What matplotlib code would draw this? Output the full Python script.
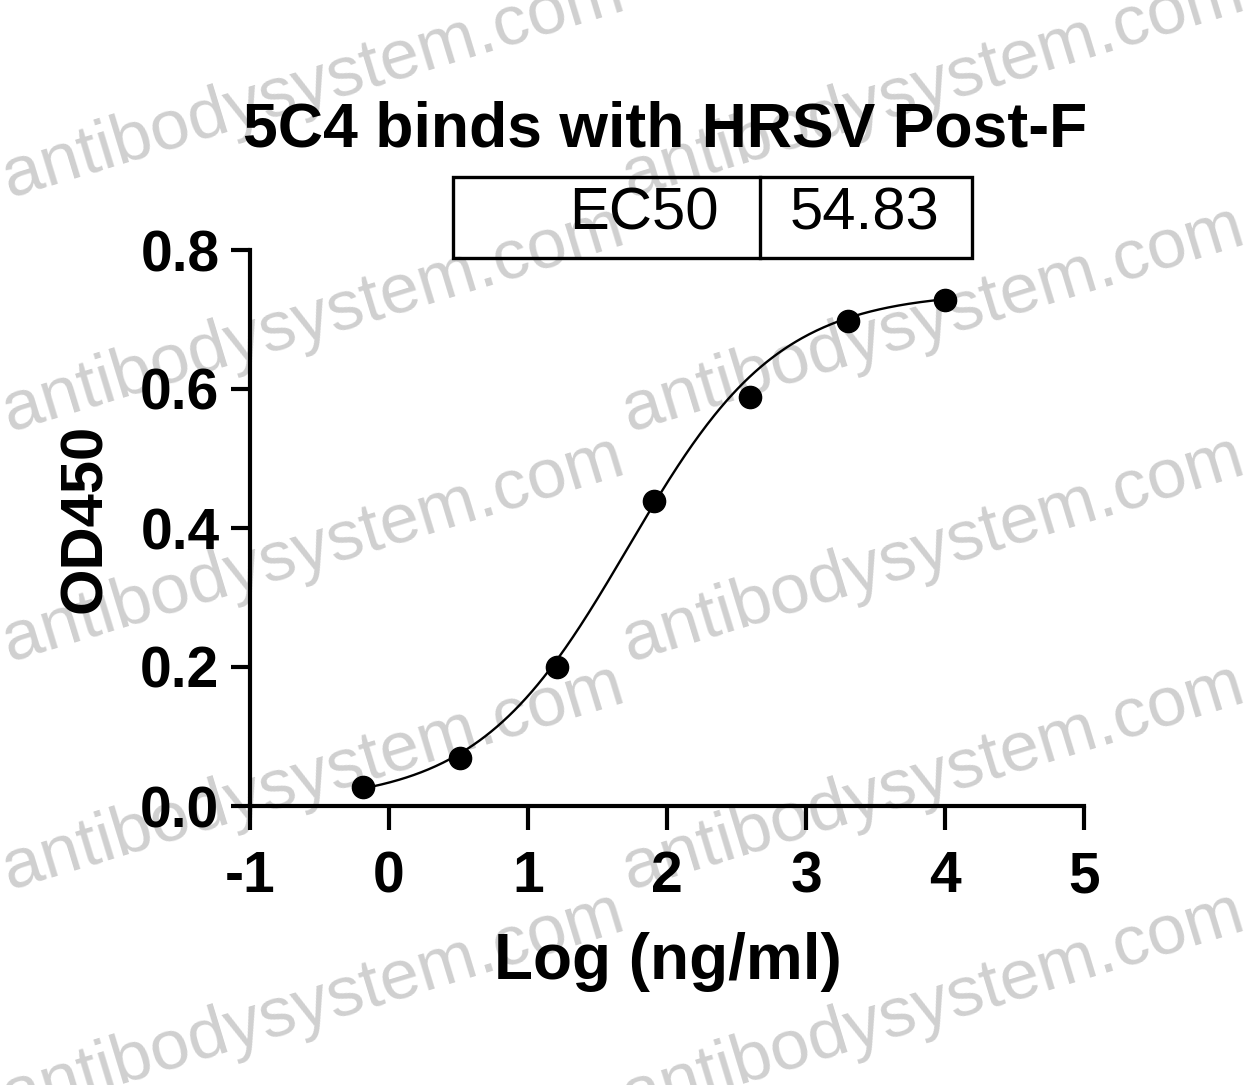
import numpy as np
import matplotlib
matplotlib.use("Agg")
import matplotlib.pyplot as plt
from matplotlib.patches import Rectangle
from matplotlib.lines import Line2D

# ---- data ----
log_conc = [-0.19, 0.51, 1.21, 1.91, 2.60, 3.30, 4.00]
od450 = [0.027, 0.069, 0.200, 0.439, 0.589, 0.698, 0.728]
x_ticks = [-1, 0, 1, 2, 3, 4, 5]
y_ticks = [0.0, 0.2, 0.4, 0.6, 0.8]
y_ticklabels = ["0.0", "0.2", "0.4", "0.6", "0.8"]
ec50_label = "EC50"
ec50_value = "54.83"
title = "5C4 binds with HRSV Post-F"
xlabel = "Log (ng/ml)"
ylabel = "OD450"
watermark = "antibodysystem.com"

# 4PL fit parameters
fit_bottom = 0.004
fit_top = 0.74
fit_logec50 = 1.72
fit_hill = 0.8

W, H = 1251, 1085
plt.rcParams['font.family'] = ['Liberation Sans', 'DejaVu Sans']
fig = plt.figure(figsize=(W / 100, H / 100), dpi=100)

def fx(px):
    return px / W

def fy(py):
    return 1 - py / H

ax = fig.add_axes([fx(250), fy(806), fx(1084) - fx(250), fy(250) - fy(806)])
ax.set_xlim(-1, 5)
ax.set_ylim(0, 0.8)
for s in ['top', 'right']:
    ax.spines[s].set_visible(False)
for s in ['left', 'bottom']:
    ax.spines[s].set_linewidth(3)
    ax.spines[s].set_capstyle('projecting')
ax.set_xticks(x_ticks)
ax.set_xticklabels([str(t) for t in x_ticks])
ax.set_yticks(y_ticks)
ax.set_yticklabels(y_ticklabels)
ax.tick_params(axis='x', length=17, width=3, pad=15, labelsize=41)
ax.tick_params(axis='y', length=14, width=3, pad=8, labelsize=41)
for lab in ax.get_xticklabels() + ax.get_yticklabels():
    lab.set_fontweight('bold')

xs = np.linspace(min(log_conc), max(log_conc), 400)
ys = fit_bottom + (fit_top - fit_bottom) / (1 + 10 ** ((fit_logec50 - xs) * fit_hill))
ax.plot(xs, ys, color='black', lw=1.7, clip_on=False, zorder=3)
ax.plot(log_conc, od450, 'o', color='black', ms=16, clip_on=False, zorder=4)

ax.set_xlabel(xlabel, fontsize=46, fontweight='bold')
ax.set_ylabel(ylabel, fontsize=43, fontweight='bold')
ax.xaxis.set_label_coords((668 - 250) / (1084 - 250), -(962 - 806) / (806 - 250))
ax.yaxis.set_label_coords(-(250 - 85) / (1084 - 250), (806 - 518) / (806 - 250))
ax.xaxis.label.set_va('center')
ax.yaxis.label.set_va('center')

fig.text(fx(665), fy(130), title, fontsize=45, fontweight='bold',
         ha='center', va='center')

# EC50 box
box = Rectangle((fx(453), fy(258)), fx(972) - fx(453), fy(177) - fy(258),
                transform=fig.transFigure, fill=False, lw=2.4, ec='black')
fig.add_artist(box)
fig.add_artist(Line2D([fx(760), fx(760)], [fy(258), fy(177)],
                      transform=fig.transFigure, color='black', lw=2.4))
fig.text(fx(644), fy(214), ec50_label, fontsize=43, ha='center', va='center')
fig.text(fx(864), fy(214), ec50_value, fontsize=43, ha='center', va='center')

# watermarks
for bx in (10, 630):
    for by in (198, 432, 662, 890, 1118):
        fig.text(fx(bx), fy(by), watermark, fontsize=51, rotation=17,
                 rotation_mode='anchor', ha='left', va='baseline',
                 color='black', alpha=0.19, zorder=10)

fig.savefig("out.png", dpi=100)
